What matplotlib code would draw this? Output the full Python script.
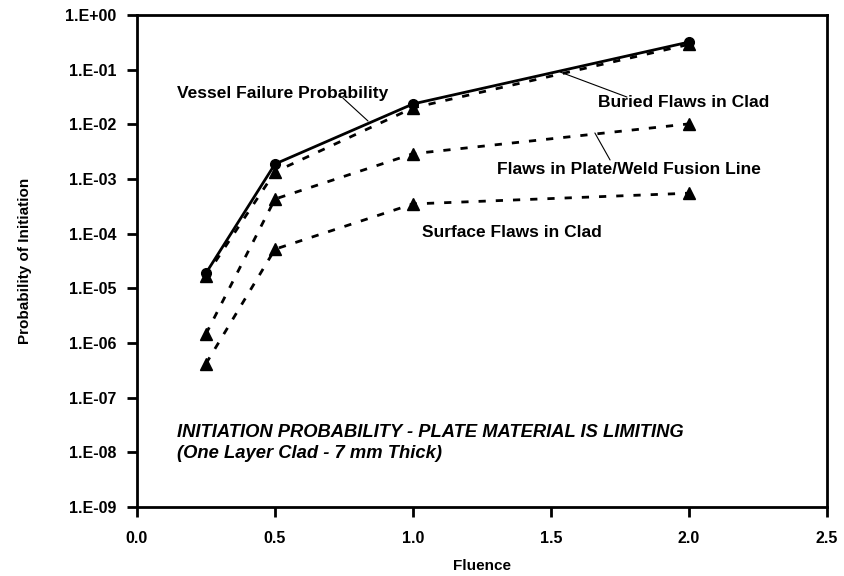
import math

import matplotlib
matplotlib.use("Agg")
import matplotlib.pyplot as plt
from matplotlib.ticker import FixedLocator, FuncFormatter, NullLocator

plt.rcParams["font.family"] = ["Liberation Sans", "DejaVu Sans"]
plt.rcParams["font.weight"] = "bold"

# fluence values and initiation probabilities per flaw population
fluence = [0.25, 0.5, 1.0, 2.0]
vessel_failure = [1.9e-5, 1.88e-3, 2.36e-2, 0.32]
buried_clad = [1.7e-5, 1.35e-3, 2.0e-2, 0.29]
plate_weld = [1.47e-6, 4.3e-4, 2.9e-3, 1.02e-2]
surface_clad = [4.2e-7, 5.2e-5, 3.5e-4, 5.5e-4]

x_ticks = [0.0, 0.5, 1.0, 1.5, 2.0, 2.5]
y_exponents = [0, -1, -2, -3, -4, -5, -6, -7, -8, -9]

fig = plt.figure(figsize=(8.44, 5.76), dpi=100)
ax = fig.add_axes([137 / 844, 1 - 507 / 576, 690 / 844, 492 / 576])

dash_kw = dict(color="black", lw=2.0, linestyle=(0, (2.6, 3.6)),
               marker="^", markersize=8, clip_on=False)
ax.plot(fluence, surface_clad, **dash_kw, zorder=2)
ax.plot(fluence, plate_weld, **dash_kw, zorder=2)
ax.plot(fluence, buried_clad, **dash_kw, zorder=2)
ax.plot(fluence, vessel_failure, color="black", lw=2.0, marker="o",
        markersize=7, clip_on=False, zorder=3)

ax.set_yscale("log")
ax.set_xlim(0, 2.5)
ax.set_ylim(1e-9, 1)
ax.xaxis.set_major_locator(FixedLocator(x_ticks))
ax.xaxis.set_major_formatter(FuncFormatter(lambda v, _: f"{v:.1f}"))
ax.yaxis.set_major_locator(FixedLocator([10.0 ** e for e in y_exponents]))
ax.yaxis.set_minor_locator(NullLocator())
ax.yaxis.set_major_formatter(
    FuncFormatter(lambda v, _: f"1.E{round(math.log10(v)):+03d}"))

for spine in ax.spines.values():
    spine.set_linewidth(2)
ax.tick_params(axis="both", direction="out", length=7, width=2,
               labelsize=11.5)
ax.tick_params(axis="x", pad=10)
ax.tick_params(axis="y", pad=8)
for lab in ax.get_xticklabels() + ax.get_yticklabels():
    lab.set_fontweight("bold")

ax.set_xlabel("Fluence", fontsize=11, fontweight="bold", labelpad=10)
ax.set_ylabel("Probability of Initiation", fontsize=11, fontweight="bold",
              labelpad=24)

label_kw = dict(fontsize=12.5, fontweight="bold", va="center", ha="left")
ax.text(0.145, 0.0359, "Vessel Failure Probability", **label_kw)
ax.text(1.670, 0.0256, "Buried Flaws in Clad", **label_kw)
ax.text(1.304, 0.00152, "Flaws in Plate/Weld Fusion Line", **label_kw)
ax.text(1.033, 1.03e-4, "Surface Flaws in Clad", **label_kw)

# thin leader lines from the curves to their labels
leader_kw = dict(arrowprops=dict(arrowstyle="-", color="black", lw=0.8,
                                 shrinkA=0, shrinkB=0))
ax.annotate("", xy=(0.837, 0.0115), xytext=(0.746, 0.0303), **leader_kw)
ax.annotate("", xy=(1.775, 0.0316), xytext=(1.533, 0.0906), **leader_kw)
ax.annotate("", xy=(1.714, 0.00223), xytext=(1.659, 0.00695), **leader_kw)

note_kw = dict(fontsize=13.2, fontweight="bold", style="italic",
               va="center", ha="left")
ax.text(0.145, 2.26e-8,
        "INITIATION PROBABILITY - PLATE MATERIAL IS LIMITING", **note_kw)
ax.text(0.145, 9.7e-9, "(One Layer Clad - 7 mm Thick)", **note_kw)

fig.savefig("out.png", dpi=100)
